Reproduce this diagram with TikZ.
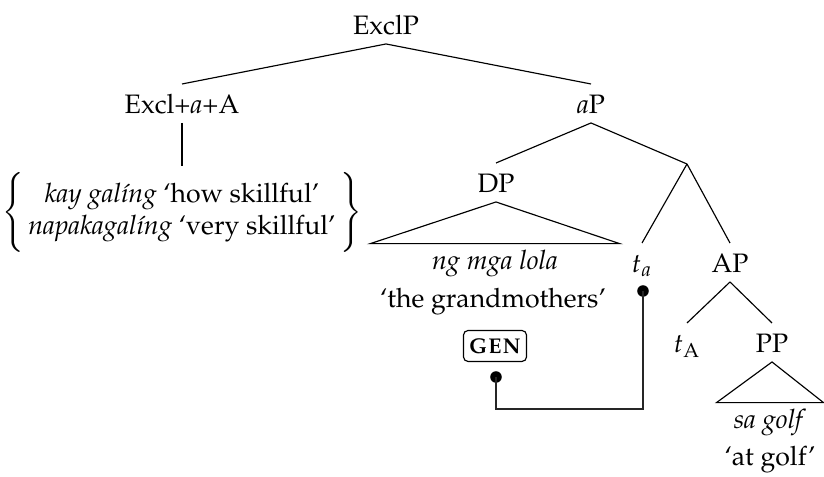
\documentclass[tikz,border=0pt]{standalone}
\usepackage[T1]{fontenc}
\usepackage{mathpazo}
\tikzset{
  every node/.style={font=\fontsize{10.4}{12.5}\selectfont},
  cat/.style={anchor=base, inner xsep=1pt, inner ysep=3.3pt, text height=8.2pt, text depth=0pt},
  yield/.style={anchor=base, inner xsep=0pt, inner ysep=3.1pt, text height=7pt, text depth=0pt},
  gloss/.style={anchor=base, inner sep=0pt},
  branch/.style={draw=black, line width=0.45pt},
  roof/.style={draw=black, line width=0.45pt, line join=miter},
  casebox/.style={draw=black, rounded corners=1.8pt, line width=0.45pt, minimum width=24.6pt, minimum height=12.1pt, inner sep=0pt, font=\fontsize{10.4}{12.5}\selectfont\bfseries\scshape},
  linkdot/.style={circle, fill=black, minimum size=4.5pt, inner sep=0pt},
  link/.style={draw=black!85, line width=0.5pt},
}

\begin{document}
\begin{tikzpicture}[x=0.39pt,y=-0.39pt]
  \useasboundingbox (0,0) rectangle (824,477);
  % top of the tree
  \node[cat] (exclp) at (386,35) {ExclP};
  \node[cat] (exclaa) at (182,114) {Excl+\textit{a}+A};
  \node[cat] (ap) at (591,114) {\textit{a}P};
  \draw[branch] (exclp.south) -- (exclaa.north);
  \draw[branch] (exclp.south) -- (ap.north);

  % exclamative forms
  \node[inner sep=1.5pt] (forms) at (182,212)
    {$\Biggl\{\begin{tabular}{@{\,}c@{\,}}\textit{kay gal\'{\i}ng} `how skillful'\\
     \textit{napakagal\'{\i}ng} `very skillful'\end{tabular}\Biggr\}$};
  \draw[branch] (exclaa.south) -- (forms.north);

  % aP and the DP
  \node[cat] (dp) at (496,193) {DP};
  \coordinate (abar) at (687,164);
  \draw[branch] (ap.south) -- (dp.north);
  \draw[branch] (ap.south) -- (abar);
  \node[yield, minimum width=96.7pt] (dpyield) at (495,270) {\textit{ng mga lola}};
  \draw[roof] (dp.south) -- (dpyield.north west) -- (dpyield.north east) -- cycle;
  \node[gloss] (dpgloss) at (493,308) {`the grandmothers'};
  \node[casebox] (gen) at (495,346) {gen};

  % lower right: trace and AP
  \node[cat] (ta) at (642,273) {$t_a$};
  \node[cat] (apa) at (730,273) {AP};
  \draw[branch] (abar) -- (ta.north);
  \draw[branch] (abar) -- (apa.north);
  \node[cat] (tA) at (687,353) {$t_{\mathrm{A}}$};
  \node[cat] (pp) at (772,353) {PP};
  \draw[branch] (apa.south) -- (tA.north);
  \draw[branch] (apa.south) -- (pp.north);
  \node[yield, minimum width=41.3pt] (ppyield) at (770,429) {\textit{sa golf}};
  \draw[roof] (pp.south) -- (ppyield.north west) -- (ppyield.north east) -- cycle;
  \node[gloss] (ppgloss) at (770,466) {`at golf'};

  % case link
  \node[linkdot] (gendot) at (496,377) {};
  \node[linkdot] (tadot) at (643,291) {};
  \draw[link] (gendot.center) -- ++(0,32) -| (tadot.center);
\end{tikzpicture}
\end{document}
